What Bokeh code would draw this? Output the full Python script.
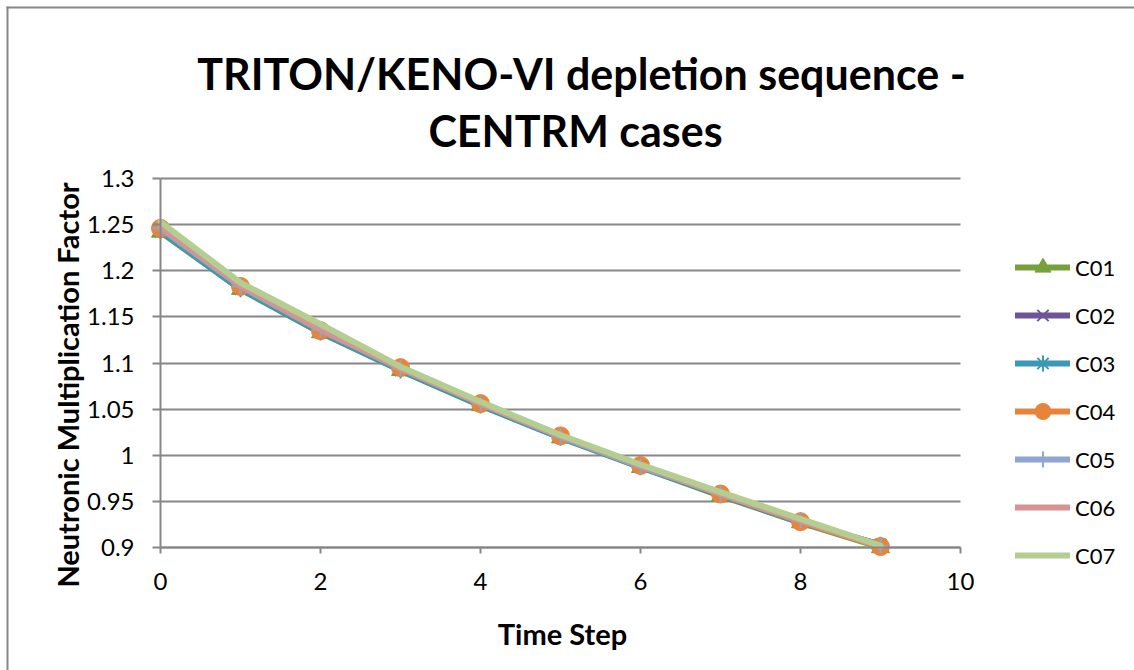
import math
from bokeh.plotting import figure
from bokeh.models import (Legend, LegendItem, Label, FixedTicker, CustomJSTickFormatter, BoxAnnotation)
from bokeh.embed import file_html
from bokeh.resources import INLINE

time_step = [0, 1, 2, 3, 4, 5, 6, 7, 8, 9]
series_names = ["C01", "C02", "C03", "C04", "C05", "C06", "C07"]
c01 = [1.242, 1.180, 1.133, 1.092, 1.054, 1.019, 0.987, 0.956, 0.927, 0.900]
c02 = [1.244, 1.181, 1.134, 1.093, 1.055, 1.020, 0.988, 0.957, 0.928, 0.903]
c03 = [1.243, 1.180, 1.133, 1.092, 1.054, 1.019, 0.987, 0.957, 0.927, 0.903]
c04 = [1.246, 1.183, 1.135, 1.095, 1.056, 1.021, 0.989, 0.958, 0.928, 0.901]
c05 = [1.246, 1.183, 1.136, 1.094, 1.056, 1.020, 0.988, 0.958, 0.929, 0.902]
c06 = [1.248, 1.184, 1.137, 1.094, 1.056, 1.021, 0.989, 0.958, 0.929, 0.901]
c07 = [1.253, 1.187, 1.142, 1.096, 1.058, 1.022, 0.990, 0.960, 0.931, 0.902]
y_ticks = [0.9, 0.95, 1.0, 1.05, 1.1, 1.15, 1.2, 1.25, 1.3]
x_ticks = [0, 2, 4, 6, 8, 10]
x_bounds = (0, 10)
y_bounds = (0.9, 1.3)
title_lines = ["TRITON/KENO-VI depletion sequence -", "CENTRM cases"]
x_title = "Time Step"
y_title = "Neutronic Multiplication Factor"

all_series = [c01, c02, c03, c04, c05, c06, c07]
colors = ["#77A03B", "#6E5597", "#3C98B5", "#E8833A", "#8EA6D0", "#D59491", "#B4CD91"]
markers = ["triangle", "x", "asterisk", "circle", "cross", None, None]

FONT = "Lato"
GRAY = "#878787"

# the frame covers the whole canvas; the axes are pinned at x=0 and y=0.9
p = figure(width=1134, height=670, output_backend="svg", toolbar_location=None,
           title=None, x_range=(-2.0, 12.175), y_range=(0.76667, 1.49295),
           min_border_left=0, min_border_top=0, min_border_right=0, min_border_bottom=0)
p.outline_line_color = None
p.background_fill_color = "white"
p.border_fill_color = "white"

# chart-area border: only its left and top edges are inside the picture
p.add_layout(BoxAnnotation(left=-1.925, right=-1.9, top=1.48645,
                           fill_color=GRAY, fill_alpha=1, line_color=None))
p.add_layout(BoxAnnotation(left=-1.925, top=1.48645, bottom=1.48428,
                           fill_color=GRAY, fill_alpha=1, line_color=None))

p.xgrid.visible = False
p.ygrid.ticker = FixedTicker(ticks=y_ticks)
p.ygrid.bounds = y_bounds
p.ygrid.cross_bounds = x_bounds
p.ygrid.grid_line_color = GRAY
p.ygrid.grid_line_width = 2

fmt = CustomJSTickFormatter(code="return String(Number(tick.toFixed(2)));")
p.yaxis.ticker = FixedTicker(ticks=y_ticks)
p.xaxis.ticker = FixedTicker(ticks=x_ticks)
p.yaxis.formatter = fmt
p.xaxis.formatter = fmt
p.yaxis.fixed_location = x_bounds[0]
p.xaxis.fixed_location = y_bounds[0]
p.yaxis.bounds = y_bounds
p.xaxis.bounds = x_bounds
for ax in (p.xaxis, p.yaxis):
    ax.axis_line_color = GRAY
    ax.axis_line_width = 2
    ax.major_tick_line_color = GRAY
    ax.major_tick_line_width = 2
    ax.minor_tick_line_color = None
    ax.major_tick_in = 0
    ax.major_label_text_font = FONT
    ax.major_label_text_font_size = "24px"
    ax.major_label_text_color = "black"
p.yaxis.major_tick_out = 8
p.yaxis.major_label_standoff = 18
p.xaxis.major_tick_out = 6
p.xaxis.major_label_standoff = 19

items = []
for name, ys, col, mk in zip(series_names, all_series, colors, markers):
    rends = []
    lr = p.line(time_step, ys, line_color=col, line_width=6, line_cap="round", line_join="round")
    rends.append(lr)
    if mk is not None:
        if mk in ("triangle", "circle"):
            sr = p.scatter(time_step, ys, marker=mk, size=18, fill_color=col, line_color=col)
        else:
            sr = p.scatter(time_step, ys, marker=mk, size=16, line_color=col, line_width=2)
        rends.append(sr)
    items.append(LegendItem(label=name, renderers=rends))

legend = Legend(items=items, location=(1015, 95), orientation="vertical",
                glyph_width=55, glyph_height=40, label_height=40, spacing=8,
                label_standoff=5, padding=0, margin=0,
                border_line_color=None, background_fill_alpha=0,
                label_text_font=FONT, label_text_font_size="22px", label_text_color="black")
p.add_layout(legend, "center")

for txt, x, y in zip(title_lines, [5.2625, 5.1875], [1.41382, 1.35203]):
    p.add_layout(Label(x=x, y=y, text=txt, text_align="center", text_baseline="alphabetic",
                       text_font=FONT, text_font_style="bold", text_font_size="43px",
                       text_color="black"))

p.add_layout(Label(x=5.025, y=0.80678, text=x_title, text_align="center", text_baseline="alphabetic",
                   text_font=FONT, text_font_style="bold", text_font_size="29px",
                   text_color="black"))
p.add_layout(Label(x=-1.1625, y=1.07615, text=y_title, angle=math.pi / 2, text_align="center",
                   text_baseline="alphabetic", text_font=FONT, text_font_style="bold",
                   text_font_size="29px", text_color="black"))

open("out.html", "w").write(file_html(p, INLINE))
